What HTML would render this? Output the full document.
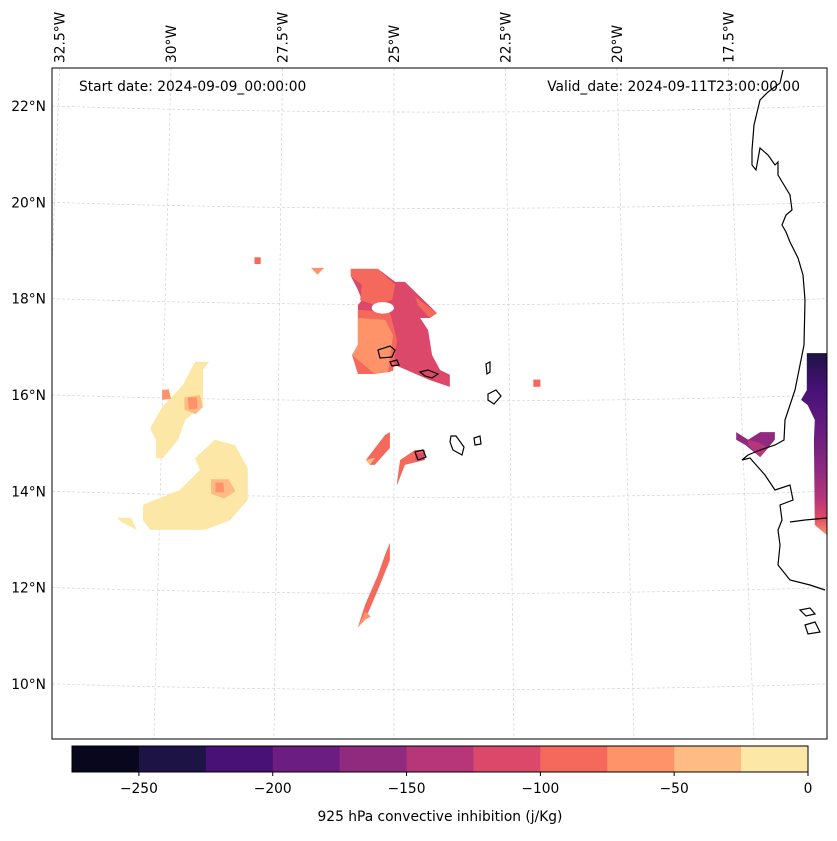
<!DOCTYPE html>
<html><head><meta charset="utf-8"><style>
body{margin:0;background:#fff;}
svg text{font-family:"DejaVu Sans","Liberation Sans",sans-serif;}
</style></head><body>
<svg id="c" width="837" height="836" viewBox="0 0 837 836" xmlns="http://www.w3.org/2000/svg">
<defs><clipPath id="mapclip"><rect x="52" y="68" width="775" height="671"/></clipPath>
<linearGradient id="afg" x1="0" y1="0" x2="0" y2="1">
<stop offset="0" stop-color="#1e1345"/><stop offset="0.2" stop-color="#471176"/><stop offset="0.45" stop-color="#6b1d81"/><stop offset="0.65" stop-color="#8f2a7f"/><stop offset="0.8" stop-color="#b63679"/><stop offset="0.9" stop-color="#dc4869"/><stop offset="1" stop-color="#fe9369"/></linearGradient></defs>
<g id="grid" clip-path="url(#mapclip)"></g>
<g id="fills" clip-path="url(#mapclip)"></g>
<g id="coast" clip-path="url(#mapclip)" fill="none" stroke="#000" stroke-width="1.2">
<path d="M783,70 L780,83 L768,92 L760,100 L754,125 L752,150 L752,165 L756,170 L760,148 L768,155 L775,165 L778,162 L778,175 L790,195 L792,210 L786,215 L782,225 L786,232 L790,242 L798,258 L803,275 L805,300 L804,345 L795,390 L785,420 L784,440 L775,445 L760,450 L748,455 L742,460 L750,458 L765,475 L775,490 L790,485 L793,500 L780,505 L782,520 L778,530 L780,545 L778,565 L790,580 L810,585 L825,590"/>
<path d="M790,522 L805,520 L827,518"/>
<path d="M800,610 L810,608 L815,614 L806,616 Z M805,625 L815,622 L820,632 L808,634 Z"/>
<path d="M378,350 L390,346 L395,350 L392,357 L380,358 Z"/>
<path d="M390,362 L397,360 L399,365 L392,366 Z"/>
<path d="M420,372 L428,370 L438,374 L432,378 L425,376 Z"/>
<path d="M486,364 L490,362 L490,372 L487,374 Z"/>
<path d="M488,394 L496,390 L501,396 L494,404 L488,400 Z"/>
<path d="M451,436 L456,436 L464,447 L462,455 L453,450 L450,442 Z"/>
<path d="M474,438 L480,436 L481,444 L475,445 Z"/>
<path d="M415,452 L423,450 L426,457 L418,460 Z"/>
</g>
<rect x="52" y="68" width="775" height="671" fill="none" stroke="#000" stroke-width="1"/>
<text x="79" y="91" font-size="13.8">Start date: 2024-09-09_00:00:00</text>
<text x="800" y="91" font-size="13.8" text-anchor="end">Valid_date: 2024-09-11T23:00:00.00</text>
<g id="labels"></g>
<g id="cbar"></g>
<text x="440" y="821" font-size="13.8" text-anchor="middle">925 hPa convective inhibition (j/Kg)</text>
</svg>
<script>
const levels=[-275,-250,-225,-200,-175,-150,-125,-100,-75,-50,-25,0];
const colors=["#08071d","#1e1345","#471176","#6b1d81","#8f2a7f","#b63679","#dc4869","#f4695c","#fe9369","#febc84","#fde7a7"];
const cbarTicks=[-250,-200,-150,-100,-50,0];
const latTicks=[22,20,18,16,14,12,10];
const lonTicks=[-32.5,-30,-27.5,-25,-22.5,-20,-17.5];
const regions=[
 {v:-12,pts:[[-30.63,13.72],[-29.8,14.03],[-29.35,14.44],[-29.46,14.69],[-29.01,15.07],[-28.56,14.96],[-28.27,14.48],[-28.27,13.82],[-28.67,13.4],[-29.23,13.2],[-30.47,13.2],[-30.63,13.4]]},
 {v:-12,pts:[[-31.22,13.45],[-30.9,13.45],[-30.77,13.2],[-31.09,13.35]]},
 {v:-12,pts:[[-30.2,15.75],[-29.73,16.21],[-29.46,16.69],[-29.14,16.69],[-29.28,16.52],[-29.28,15.79],[-29.68,15.48],[-29.84,15.07],[-30.18,14.69],[-30.34,14.69],[-30.34,15.07],[-30.47,15.31]]},
 {v:-40,pts:[[-29.7,15.95],[-29.35,16.0],[-29.28,15.75],[-29.45,15.6],[-29.7,15.7]]},
 {v:-60,pts:[[-29.62,15.95],[-29.42,15.95],[-29.4,15.72],[-29.6,15.7]]},
 {v:-60,pts:[[-30.2,16.1],[-30.05,16.12],[-30.0,15.92],[-30.2,15.9]]},
 {v:-40,pts:[[-29.1,14.25],[-28.7,14.25],[-28.55,14.0],[-28.8,13.85],[-29.1,13.95]]},
 {v:-60,pts:[[-29.0,14.18],[-28.82,14.18],[-28.8,13.98],[-29.0,13.98]]},
 {v:-110,pts:[[-25.95,18.62],[-25.34,18.62],[-24.95,18.35],[-24.73,18.35],[-24.01,17.7],[-24.17,17.6],[-24.39,17.6],[-24.21,17.35],[-24.12,16.83],[-23.94,16.52],[-23.72,16.42],[-23.72,16.17],[-24.17,16.31],[-24.95,16.62],[-25.07,16.48],[-25.41,16.44],[-25.79,16.44],[-25.92,16.83],[-25.79,17.04],[-25.79,17.87],[-25.7,17.97],[-25.79,18.18],[-25.95,18.47]]},
 {v:-90,pts:[[-25.95,18.62],[-25.34,18.62],[-24.95,18.29],[-25.02,17.97],[-25.41,17.87],[-25.74,17.97],[-25.7,18.29],[-25.95,18.47]]},
 {v:-90,pts:[[-24.5,18.04],[-24.01,17.7],[-24.17,17.6],[-24.44,17.87]]},
 {v:-90,pts:[[-25.79,17.77],[-25.07,17.72],[-24.91,17.14],[-25.0,16.5],[-25.41,16.44],[-25.79,16.44],[-25.92,16.83],[-25.79,17.04]]},
 {v:-60,pts:[[-25.79,17.6],[-25.18,17.56],[-25.0,17.25],[-25.11,16.48],[-25.41,16.44],[-25.92,16.83],[-25.79,17.04]]},
 {v:-90,pts:[[-28.12,18.86],[-27.98,18.86],[-27.98,18.72],[-28.12,18.72]]},
 {v:-60,pts:[[-26.85,18.64],[-26.55,18.64],[-26.7,18.5]]},
 {v:-90,pts:[[-21.84,16.32],[-21.68,16.32],[-21.68,16.17],[-21.84,16.17]]},
 {v:-90,pts:[[-25.61,14.65],[-25.18,15.17],[-25.07,15.23],[-25.07,14.9],[-25.41,14.55],[-25.52,14.55]]},
 {v:-40,pts:[[-25.61,14.65],[-25.4,14.7],[-25.52,14.55]]},
 {v:-90,pts:[[-24.91,14.19],[-24.84,14.65],[-24.5,14.86],[-24.28,14.86],[-24.28,14.65],[-24.73,14.55],[-24.91,14.13]]},
 {v:-110,pts:[[-24.5,14.78],[-24.3,14.8],[-24.3,14.65],[-24.5,14.65]]},
 {v:-90,pts:[[-25.79,11.18],[-25.63,11.64],[-25.34,12.26],[-25.18,12.68],[-25.07,12.93],[-25.07,12.57],[-25.34,11.95],[-25.63,11.33]]},
 {v:-60,pts:[[-25.79,11.18],[-25.63,11.5],[-25.5,11.4],[-25.63,11.33]]},
 {v:-160,pts:[[-17.27,15.23],[-17.0,15.07],[-16.73,15.23],[-16.4,15.23],[-16.4,15.07],[-16.73,14.71],[-17.06,14.96],[-17.27,15.07]]},
 {v:-130,pts:[[-17.0,15.07],[-16.73,15.0],[-16.55,14.9],[-16.73,14.71],[-17.0,14.96]]}
];
const holes=[[-25.23,17.81,0.25,0.12]];
const africa={pts:[[-15.68,16.87],[-15.23,16.87],[-15.23,13.09],[-15.5,13.3],[-15.52,15.07],[-15.5,15.48],[-15.66,15.79],[-15.81,15.9],[-15.68,16.1]]};

const NS="http://www.w3.org/2000/svg";
function x(lon,lat){return 393+(lon+25)*44.4;}
function y(lat){return 395-(lat-16)*48.15;}
function gx(lon,lat){return 394+(lon+25)/2.5*(120-0.616*(lat-8.9));}
function py2lat(p){return 16+(395-p)/48.15;}
function gy(lat,px){const t=(px-440)/388;return y(lat)+6*(1-t*t);}
function col(v){for(let i=0;i<colors.length;i++){if(v>=levels[i]&&v<levels[i+1])return colors[i];}return colors[colors.length-1];}
function mk(t,a,p){const e=document.createElementNS(NS,t);for(const k in a)e.setAttribute(k,a[k]);p.appendChild(e);return e;}
const grid=document.getElementById('grid');
latTicks.forEach(l=>{const pts=[];for(let px=52;px<=827;px+=25)pts.push(px+','+gy(l,px).toFixed(1));
const e=mk('polyline',{points:pts.join(' '),fill:'none',stroke:'#d4d4d4','stroke-width':0.7,'stroke-dasharray':'3,2'},grid);

});
lonTicks.forEach(l=>{const e=mk('line',{x1:gx(l,py2lat(68)),y1:68,x2:gx(l,py2lat(739)),y2:739,stroke:'#d4d4d4','stroke-width':0.7,'stroke-dasharray':'3,2'},grid);

});
const fills=document.getElementById('fills');
regions.forEach(r=>{const e=mk('polygon',{points:r.pts.map(p=>x(p[0],p[1])+','+y(p[1])).join(' '),fill:col(r.v)},fills);

});
holes.forEach(h=>{const e=mk('ellipse',{cx:x(h[0],h[1]),cy:y(h[1]),rx:h[2]*44.4,ry:h[3]*48.15,fill:'#fff'},fills);

});
{const e=mk('polygon',{points:africa.pts.map(p=>x(p[0],p[1])+','+y(p[1])).join(' '),fill:'url(#afg)'},fills);

}
const lab=document.getElementById('labels');
latTicks.forEach(l=>{const e=mk('text',{x:46,y:y(l)+5,'font-size':13.8,'text-anchor':'end'},lab);e.textContent=l+'°N';

});
lonTicks.forEach(l=>{const xx=gx(l,py2lat(68))+5;const e=mk('text',{x:0,y:0,'font-size':13.8,transform:`translate(${xx.toFixed(1)},63) rotate(-90)`},lab);e.textContent=(-l)+'°W';

});
const cb=document.getElementById('cbar');
const cx0=72,cx1=808;
function cbx(v){return cx0+(v-levels[0])/(levels[levels.length-1]-levels[0])*(cx1-cx0);}
colors.forEach((c,i)=>{const e=mk('rect',{x:cbx(levels[i]),y:746,width:cbx(levels[i+1])-cbx(levels[i])+0.5,height:26,fill:c},cb);

});
{const e=mk('rect',{x:cx0,y:746,width:cx1-cx0,height:26,fill:'none',stroke:'#000','stroke-width':1},cb);

}
cbarTicks.forEach(t=>{const l=mk('line',{x1:cbx(t),x2:cbx(t),y1:772,y2:776,stroke:'#000'},cb);


const e=mk('text',{x:cbx(t),y:793,'font-size':13.8,'text-anchor':'middle'},cb);e.textContent=t<0?'\u2212'+(-t):String(t);

});
</script>
</body></html>
